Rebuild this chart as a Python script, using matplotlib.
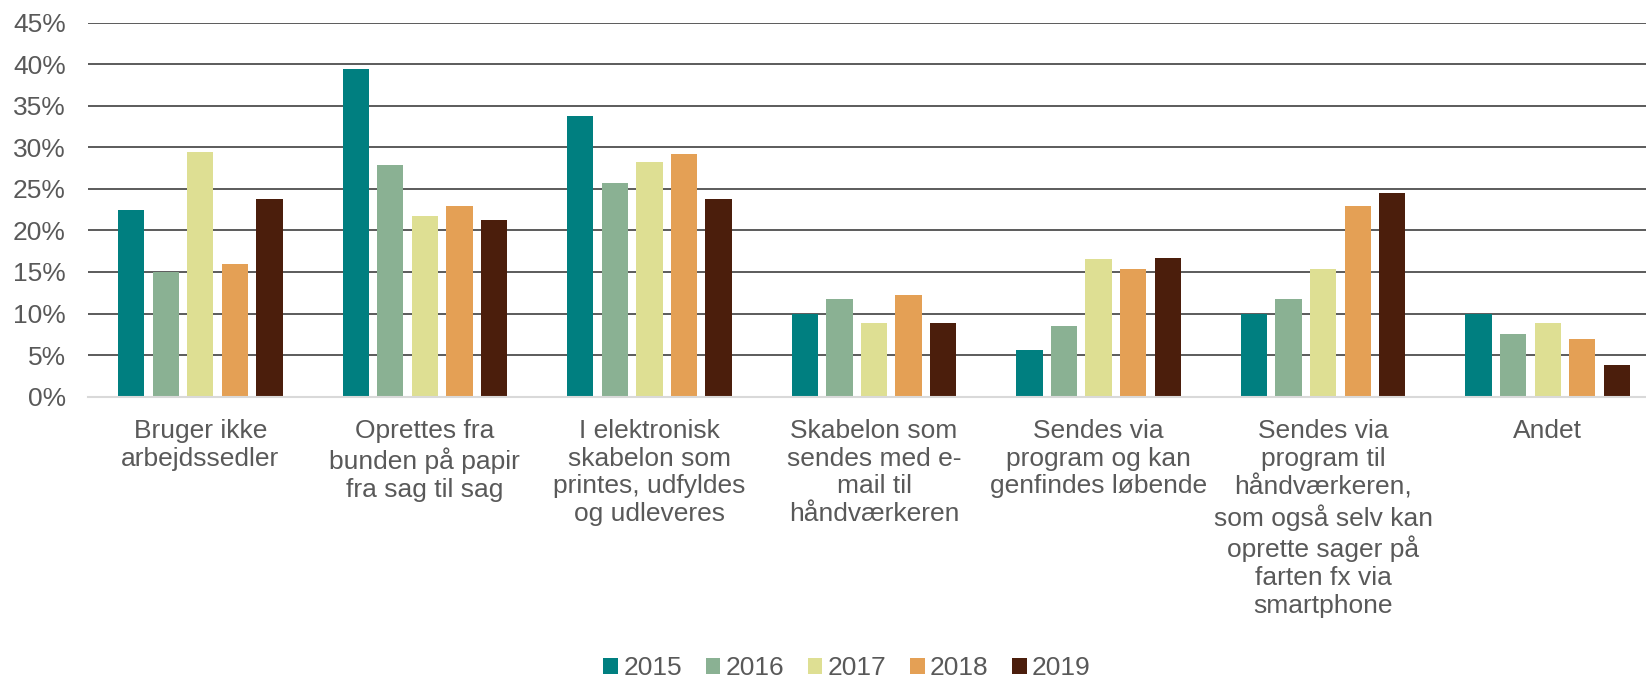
import numpy as np
import matplotlib.pyplot as plt

plt.rcParams['font.family'] = ['Liberation Sans', 'DejaVu Sans']

categories = ['Bruger ikke\narbejdssedler',
              'Oprettes fra\nbunden på papir\nfra sag til sag',
              'I elektronisk\nskabelon som\nprintes, udfyldes\nog udleveres',
              'Skabelon som\nsendes med e-\nmail til\nhåndværkeren',
              'Sendes via\nprogram og kan\ngenfindes løbende',
              'Sendes via\nprogram til\nhåndværkeren,\nsom også selv kan\noprette sager på\nfarten fx via\nsmartphone',
              'Andet']
years = ['2015', '2016', '2017', '2018', '2019']
v2015 = [22.5, 39.4, 33.8, 9.9, 5.6, 9.9, 9.9]
v2016 = [15.0, 27.9, 25.7, 11.8, 8.5, 11.8, 7.5]
v2017 = [29.4, 21.7, 28.2, 8.9, 16.6, 15.3, 8.9]
v2018 = [16.0, 23.0, 29.2, 12.2, 15.3, 23.0, 6.9]
v2019 = [23.8, 21.3, 23.8, 8.9, 16.7, 24.5, 3.8]
colors = ['#007F80', '#8AB193', '#DEDF93', '#E4A055', '#4B1E0C']

series = [v2015, v2016, v2017, v2018, v2019]
x = np.arange(len(categories))

fig = plt.figure(figsize=(16.46, 6.78), dpi=100)
ax = fig.add_axes([0.0535, 0.415, 0.955, 0.5515])

for i, vals in enumerate(series):
    ax.bar(x + (i - 2) * 0.154, vals, width=0.117, color=colors[i], label=years[i], zorder=3)

ax.set_xlim(-0.5, len(categories) - 0.5)
ax.set_ylim(0, 45)
ax.set_yticks(np.arange(0, 46, 5))
ax.set_yticklabels([f'{t}%' for t in range(0, 46, 5)])
ax.yaxis.grid(True, color='#404040', linewidth=1.2)
ax.set_axisbelow(True)
for s in ['top', 'right', 'left']:
    ax.spines[s].set_visible(False)
ax.spines['bottom'].set_color('#D9D9D9')
ax.spines['bottom'].set_linewidth(1.5)
ax.spines['bottom'].set_zorder(4)

ax.set_xticks(x)
ax.set_xticklabels(categories, linespacing=1.2)
ax.tick_params(axis='both', length=0, labelsize=19, labelcolor='#595959')
ax.tick_params(axis='y', pad=16)
ax.tick_params(axis='x', pad=16)

fig.legend(loc='center', bbox_to_anchor=(0.5146, 0.0147), ncol=5, frameon=False,
           fontsize=19, labelcolor='#595959', handlelength=0.55, handleheight=0.55,
           handletextpad=0.2, columnspacing=0.9, borderpad=0)

fig.savefig('out.png', dpi=100)
